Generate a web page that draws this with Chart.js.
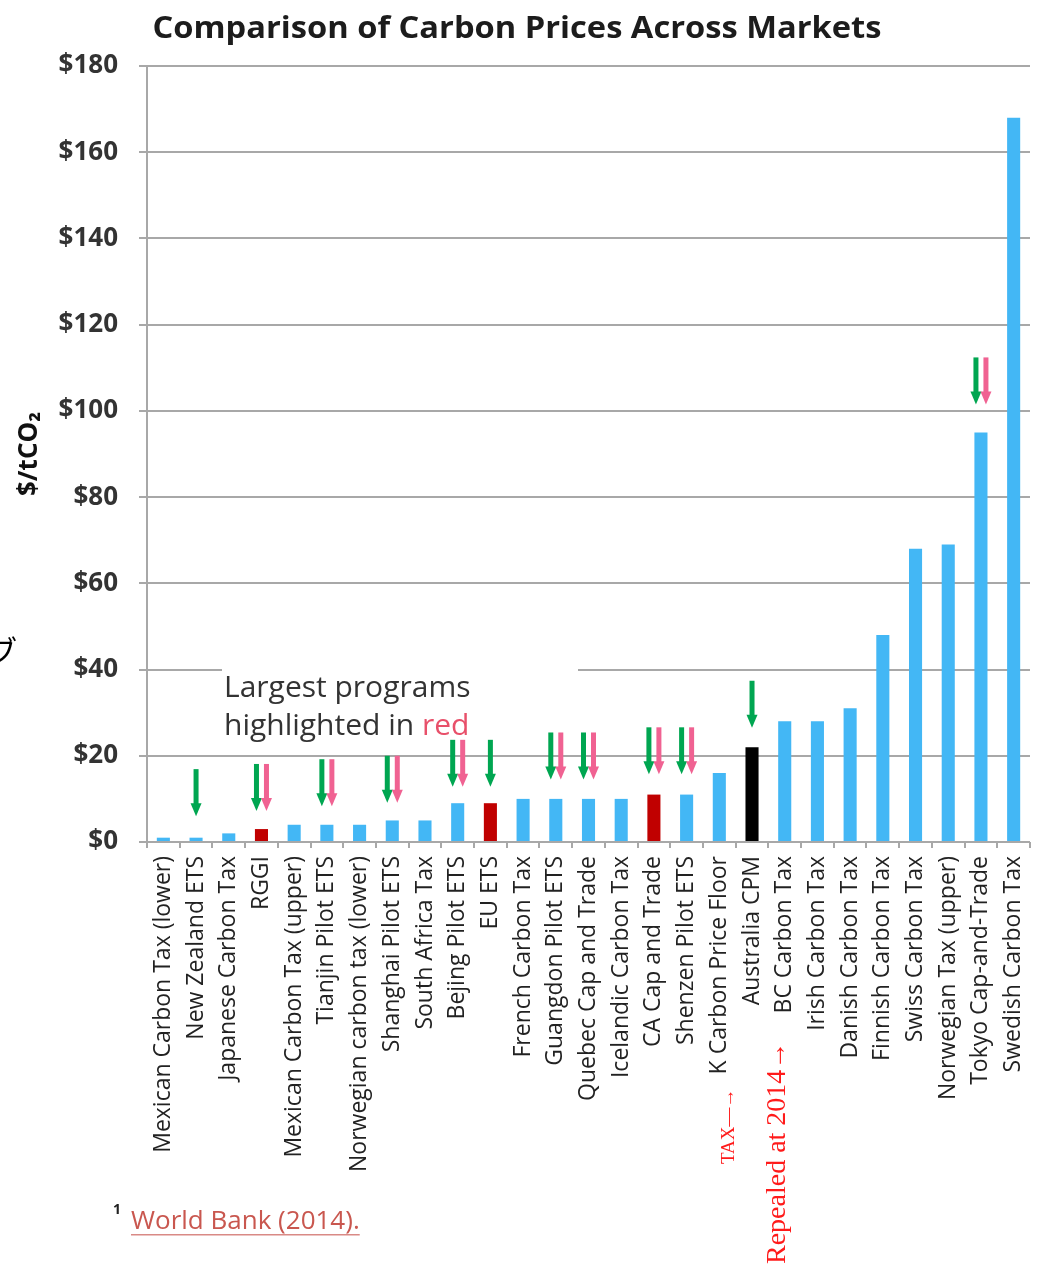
<!DOCTYPE html>
<html>
<head>
<meta charset="utf-8">
<script src="https://cdn.jsdelivr.net/npm/chart.js@4.4.1/dist/chart.umd.min.js"></script>
<style>
  html, body { margin: 0; padding: 0; background: #fff; }
  #wrap { position: relative; width: 1039px; height: 1273px; }
</style>
</head>
<body>
<div id="wrap"><canvas id="chart" width="1039" height="1273"></canvas></div>
<script>
// ================= DATA =================
const markets = [
  'Mexican Carbon Tax (lower)', 'New Zealand ETS', 'Japanese Carbon Tax', 'RGGI',
  'Mexican Carbon Tax (upper)', 'Tianjin Pilot ETS', 'Norwegian carbon tax (lower)',
  'Shanghai Pilot ETS', 'South Africa Tax', 'Bejing Pilot ETS', 'EU ETS',
  'French Carbon Tax', 'Guangdon Pilot ETS', 'Quebec Cap and Trade', 'Icelandic Carbon Tax',
  'CA Cap and Trade', 'Shenzen Pilot ETS', 'K Carbon Price Floor', 'Australia CPM',
  'BC Carbon Tax', 'Irish Carbon Tax', 'Danish Carbon Tax', 'Finnish Carbon Tax',
  'Swiss Carbon Tax', 'Norwegian Tax (upper)', 'Tokyo Cap-and-Trade', 'Swedish Carbon Tax'
];
const prices = [1, 1, 2, 3, 4, 4, 4, 5, 5, 9, 9, 10, 10, 10, 10, 11, 11, 16, 22, 28, 28, 31, 48, 68, 69, 95, 168];

const largestPrograms = ['RGGI', 'EU ETS', 'CA Cap and Trade'];
const repealedPrograms = ['Australia CPM'];

const yTickValues = [0, 20, 40, 60, 80, 100, 120, 140, 160, 180];

// down arrows over some of the bars, tip value in $/tCO2
const greenArrows = ['New Zealand ETS', 'RGGI', 'Tianjin Pilot ETS', 'Shanghai Pilot ETS', 'Bejing Pilot ETS',
  'EU ETS', 'Guangdon Pilot ETS', 'Quebec Cap and Trade', 'CA Cap and Trade', 'Shenzen Pilot ETS',
  'Australia CPM', 'Tokyo Cap-and-Trade'];
const greenArrowTips = [6.0, 7.2, 8.3, 9.1, 12.8, 12.8, 14.5, 14.5, 15.7, 15.7, 26.5, 101.5];
const pinkArrows = ['RGGI', 'Tianjin Pilot ETS', 'Shanghai Pilot ETS', 'Bejing Pilot ETS',
  'Guangdon Pilot ETS', 'Quebec Cap and Trade', 'CA Cap and Trade', 'Shenzen Pilot ETS', 'Tokyo Cap-and-Trade'];
const pinkArrowTips = [7.2, 8.3, 9.1, 12.8, 14.5, 14.5, 15.7, 15.7, 101.5];

// ================= STYLE =================
const BLUE = '#43b7f5';
const DARK_RED = '#c00000';
const GRID = '#a8a8a8';
const GREEN = '#00a651';
const PINK = '#f06292';
const SANS = '"Open Sans"';

const barColors = markets.map(m =>
  largestPrograms.includes(m) ? DARK_RED : repealedPrograms.includes(m) ? '#000000' : BLUE);

function drawArrow(ctx, x, tipY, color) {
  const len = 47, shaft = 5, headW = 11, headL = 13;
  ctx.fillStyle = color;
  ctx.fillRect(x - shaft / 2, tipY - len, shaft, len - headL + 1);
  ctx.beginPath();
  ctx.moveTo(x - headW / 2, tipY - headL);
  ctx.lineTo(x + headW / 2, tipY - headL);
  ctx.lineTo(x, tipY);
  ctx.closePath();
  ctx.fill();
}

// text squeezed/stretched sideways to a given width, centred on cx
function fitText(ctx, text, cx, y, width) {
  const w = ctx.measureText(text).width;
  ctx.save();
  ctx.translate(cx, y);
  ctx.scale(width / w, 1);
  ctx.textAlign = 'center';
  ctx.fillText(text, 0, 0);
  ctx.restore();
}

// ================= PLUGINS =================
const calloutBox = {
  id: 'calloutBox',
  beforeDatasetsDraw(chart) {
    const ctx = chart.ctx;
    ctx.save();
    ctx.fillStyle = '#ffffff';
    ctx.fillRect(222, 658, 356, 88);
    ctx.font = '30px ' + SANS;
    ctx.textBaseline = 'alphabetic';
    ctx.fillStyle = '#333333';
    ctx.fillText('Largest programs', 224, 697);
    ctx.fillText('highlighted in ', 224, 735);
    const w = ctx.measureText('highlighted in ').width;
    ctx.fillStyle = '#e8506a';
    ctx.fillText('red', 224 + w, 735);
    ctx.restore();
  }
};

const arrowMarks = {
  id: 'arrowMarks',
  afterDatasetsDraw(chart) {
    const ctx = chart.ctx;
    const xs = chart.scales.x, ys = chart.scales.y;
    ctx.save();
    greenArrows.forEach((m, i) => {
      const idx = markets.indexOf(m);
      const shift = pinkArrows.includes(m) ? -5 : 0;
      drawArrow(ctx, xs.getPixelForValue(idx) + shift, ys.getPixelForValue(greenArrowTips[i]), GREEN);
    });
    pinkArrows.forEach((m, i) => {
      const idx = markets.indexOf(m);
      drawArrow(ctx, xs.getPixelForValue(idx) + 5, ys.getPixelForValue(pinkArrowTips[i]), PINK);
    });
    ctx.restore();
  }
};

const pageText = {
  id: 'pageText',
  afterDraw(chart) {
    const ctx = chart.ctx;
    ctx.save();

    // title
    ctx.fillStyle = '#1c1c1c';
    ctx.font = 'bold 30px ' + SANS;
    fitText(ctx, 'Comparison of Carbon Prices Across Markets', 517, 38, 729);

    // stray glyph at the left edge
    ctx.fillStyle = '#000';
    ctx.textAlign = 'right';
    ctx.font = '30px "Noto Sans CJK JP"';
    ctx.fillText('ブ', 17, 662);

    // repeal notes, rotated like the axis labels
    ctx.fillStyle = '#ff1a1a';
    ctx.textAlign = 'left';
    ctx.textBaseline = 'middle';
    ctx.save();
    ctx.translate(729, 1164);
    ctx.rotate(-Math.PI / 2);
    ctx.font = '19px "Liberation Serif"';
    ctx.fillText('TAX—→', 0, 0);
    ctx.restore();
    ctx.save();
    ctx.translate(778, 1264);
    ctx.rotate(-Math.PI / 2);
    ctx.font = '28px "Liberation Serif"';
    ctx.fillText('Repealed at 2014→', 0, 0);
    ctx.restore();

    // footnote
    ctx.textAlign = 'left';
    ctx.textBaseline = 'alphabetic';
    ctx.fillStyle = '#222';
    ctx.font = 'bold 14px ' + SANS;
    ctx.fillText('1', 113, 1214);
    ctx.fillStyle = '#c9574f';
    ctx.font = '26px ' + SANS;
    const note = 'World Bank (2014).';
    ctx.fillText(note, 131, 1229);
    const nw = ctx.measureText(note).width;
    ctx.fillStyle = '#d98a86';
    ctx.fillRect(131, 1234, nw, 1.5);

    ctx.restore();
  }
};

// ================= CHART =================
new Chart(document.getElementById('chart'), {
  type: 'bar',
  data: {
    labels: markets,
    datasets: [{
      data: prices,
      backgroundColor: barColors,
      barPercentage: 0.4,
      categoryPercentage: 1
    }]
  },
  options: {
    responsive: false,
    animation: false,
    devicePixelRatio: 1,
    layout: { padding: { top: 66, right: 9, left: 0, bottom: 0 } },
    plugins: {
      legend: { display: false },
      tooltip: { enabled: false }
    },
    scales: {
      x: {
        grid: { offset: true, drawOnChartArea: false, color: GRID, lineWidth: 2, tickLength: 6 },
        border: { display: false },
        ticks: {
          autoSkip: false, minRotation: 90, maxRotation: 90, padding: 8,
          color: '#222', font: { family: SANS, size: 23 }
        },
        afterFit: s => {
          s.height = 431;
          s.paddingLeft = 0;
          s.paddingRight = 0;
        }
      },
      y: {
        min: 0,
        max: 180,
        afterBuildTicks: s => { s.ticks = yTickValues.map(v => ({ value: v })); },
        grid: { color: GRID, lineWidth: 2, tickLength: 8 },
        border: { color: GRID, width: 2 },
        ticks: {
          padding: 21, color: '#333',
          font: { family: SANS, size: 26, weight: 'bold' },
          callback: v => '$' + v
        },
        title: {
          display: true, text: '$/tCO₂', color: '#111',
          font: { family: SANS, size: 26, weight: 'bold' },
          padding: { top: 14 }
        },
        afterFit: s => {
          s.width = 147;
          s.paddingTop = 0;
          s.paddingBottom = 0;
        }
      }
    }
  },
  plugins: [calloutBox, arrowMarks, pageText]
});
</script>
</body>
</html>
